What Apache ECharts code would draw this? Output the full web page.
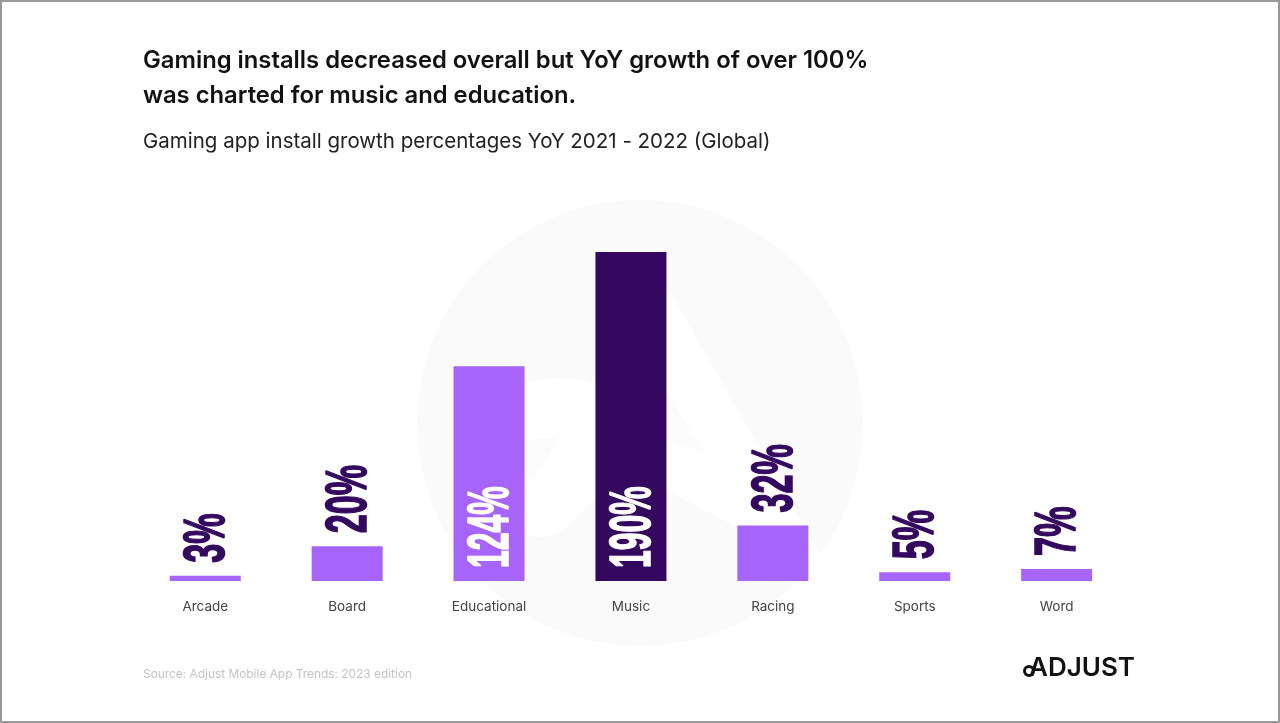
<!DOCTYPE html>
<html>
<head>
<meta charset="utf-8">
<style>html,body{margin:0;padding:0;background:#fff}#main{width:1280px;height:723px}</style>
<script src="https://cdn.jsdelivr.net/npm/echarts@6/dist/echarts.min.js"></script>
</head>
<body>
<div id="main"></div>
<script>
var categories = ['Arcade', 'Board', 'Educational', 'Music', 'Racing', 'Sports', 'Word'];
var growth = [3, 20, 124, 190, 32, 5, 7];
var highlighted = 'Music';

var LIGHT = '#a764fb', DARK = '#34085f';
var labelFont = '"Liberation Sans"', textFont = 'Inter';

var myChart = echarts.init(document.getElementById('main'));

// the value labels are squeezed along their length, the original uses a condensed face
function renderLabel(params, api) {
    var v = api.value(1);
    var inside = v > 100;
    var base = api.coord([api.value(0), 0]);
    var top = api.coord([api.value(0), v]);
    return {
        type: 'text',
        x: base[0] + 3,
        y: (inside ? base[1] : top[1]) - 13,
        rotation: Math.PI / 2,
        scaleX: inside ? 0.56 : 0.6,
        style: {
            text: v + '%',
            fontFamily: labelFont,
            fontWeight: 'bold',
            fontSize: 57,
            align: 'left',
            verticalAlign: 'middle',
            fill: inside ? '#fff' : DARK,
            stroke: inside ? '#fff' : DARK,
            lineWidth: 1.6
        }
    };
}

var option = {
    animation: false,
    backgroundColor: '#fff',
    title: [
        {
            text: 'Gaming installs decreased overall but YoY growth of over 100%\nwas charted for music and education.',
            left: 138, top: 38,
            textStyle: {fontFamily: textFont, fontWeight: 600, fontSize: 23.8, lineHeight: 35, color: '#111'}
        },
        {
            text: 'Gaming app install growth percentages YoY 2021 - 2022 (Global)',
            left: 138, top: 126,
            textStyle: {fontFamily: textFont, fontWeight: 400, fontSize: 20.5, color: '#222'}
        },
        {
            text: 'Source: Adjust Mobile App Trends: 2023 edition',
            left: 138, top: 663,
            textStyle: {fontFamily: textFont, fontWeight: 400, fontSize: 11.9, color: '#c4c4c4'}
        }
    ],
    grid: {left: 134.3, width: 993.3, top: 252, height: 329},
    xAxis: {
        type: 'category',
        data: categories,
        axisLine: {show: false},
        axisTick: {show: false},
        axisLabel: {margin: 19, fontFamily: textFont, fontSize: 13.5, color: '#444'}
    },
    yAxis: {type: 'value', min: 0, max: 190, show: false, splitLine: {show: false}},
    series: [
        {
            type: 'bar',
            barWidth: 71,
            z: 2,
            data: growth,
            itemStyle: {
                color: function (p) { return categories[p.dataIndex] === highlighted ? DARK : LIGHT; }
            }
        },
        {
            type: 'custom',
            z: 3,
            data: growth.map(function (v, i) { return [i, v]; }),
            renderItem: renderLabel
        }
    ],
    graphic: [
        {type: 'rect', z: -10, shape: {x: 1, y: 1, width: 1278, height: 721}, style: {fill: 'none', stroke: '#999', lineWidth: 2}},
        // faint watermark: disc with the cut-out A
        {type: 'circle', z: -9, shape: {cx: 640, cy: 423, r: 223}, style: {fill: '#fafafa'}},
        {type: 'polygon', z: -8, shape: {points: [[660, 274], [825, 562], [812, 566], [660, 487]]}, style: {fill: '#fff'}},
        {type: 'polygon', z: -7, shape: {points: [[667, 392], [703, 452], [667, 440]]}, style: {fill: '#fbfbfb'}},
        {type: 'polygon', z: -8, shape: {smooth: 0.3, points: [[510, 392], [600, 388], [600, 485], [575, 520], [545, 537], [510, 525]]}, style: {fill: '#fff'}},
        {type: 'polygon', z: -7, shape: {points: [[526, 440], [558, 437], [535, 478], [526, 478]]}, style: {fill: '#fbfbfb'}},
        // logo
        {type: 'circle', z: 5, shape: {cx: 1029, cy: 671, r: 4.5}, style: {fill: 'none', stroke: '#111', lineWidth: 3}},
        {
            type: 'text', z: 5, x: 1029, y: 668,
            style: {text: 'ADJUST', fontFamily: textFont, fontWeight: 600, fontSize: 26, verticalAlign: 'middle', fill: '#111'}
        }
    ]
};
myChart.setOption(option);
</script>
</body>
</html>
